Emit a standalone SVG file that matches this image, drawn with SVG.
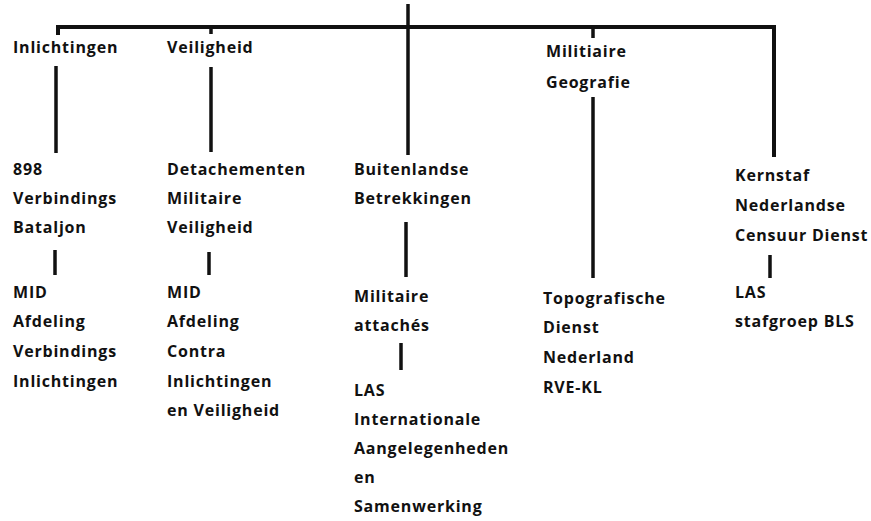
<svg xmlns="http://www.w3.org/2000/svg" width="871" height="521" viewBox="0 0 871 521">
<style>
text{font-family:"Open Sans","DejaVu Sans",sans-serif;font-weight:700;font-size:16px;letter-spacing:0.8px;fill:#111}
.c{stroke:#111;stroke-width:3.5;fill:none;stroke-linecap:butt}
.bar{stroke:#111;stroke-width:4;fill:none}
</style>
<rect width="871" height="521" fill="#fff"/>
<g id="connectors">
<path class="bar" d="M58,35 V27 H774 V157"/>
<line class="c" x1="211" y1="27" x2="211" y2="34"/>
<line class="c" x1="408" y1="4" x2="408" y2="155"/>
<line class="c" x1="593" y1="27" x2="593" y2="38"/>
<line class="c" x1="56" y1="66" x2="56" y2="153"/>
<line class="c" x1="211" y1="67" x2="211" y2="152"/>
<line class="c" x1="593" y1="97" x2="593" y2="278"/>
<line class="c" x1="55" y1="250" x2="55" y2="275"/>
<line class="c" x1="209" y1="252" x2="209" y2="275"/>
<line class="c" x1="406" y1="222" x2="406" y2="277"/>
<line class="c" x1="401" y1="343" x2="401" y2="370"/>
<line class="c" x1="770" y1="255" x2="770" y2="278"/>
</g>
<g id="n-inlichtingen"><text x="13" y="53">Inlichtingen</text></g>
<g id="n-veiligheid"><text x="167" y="53">Veiligheid</text></g>
<g id="n-geografie"><text x="546"><tspan x="546" y="57">Militiaire</tspan><tspan x="546" y="88">Geografie</tspan></text></g>
<g id="n-898"><text><tspan x="13" y="175">898</tspan><tspan x="13" y="204">Verbindings</tspan><tspan x="13" y="233">Bataljon</tspan></text></g>
<g id="n-detachementen"><text><tspan x="167" y="175">Detachementen</tspan><tspan x="167" y="204">Militaire</tspan><tspan x="167" y="233">Veiligheid</tspan></text></g>
<g id="n-buitenlandse"><text><tspan x="354" y="175">Buitenlandse</tspan><tspan x="354" y="204">Betrekkingen</tspan></text></g>
<g id="n-kernstaf"><text><tspan x="735" y="181">Kernstaf</tspan><tspan x="735" y="211">Nederlandse</tspan><tspan x="735" y="241">Censuur Dienst</tspan></text></g>
<g id="n-mid-avi"><text><tspan x="13" y="298">MID</tspan><tspan x="13" y="327">Afdeling</tspan><tspan x="13" y="357">Verbindings</tspan><tspan x="13" y="387">Inlichtingen</tspan></text></g>
<g id="n-mid-aciv"><text><tspan x="167" y="298">MID</tspan><tspan x="167" y="327">Afdeling</tspan><tspan x="167" y="357">Contra</tspan><tspan x="167" y="387">Inlichtingen</tspan><tspan x="167" y="416">en Veiligheid</tspan></text></g>
<g id="n-attaches"><text><tspan x="354" y="302">Militaire</tspan><tspan x="354" y="331">attachés</tspan></text></g>
<g id="n-las-ias"><text><tspan x="354" y="396">LAS</tspan><tspan x="354" y="425">Internationale</tspan><tspan x="354" y="454">Aangelegenheden</tspan><tspan x="354" y="483">en</tspan><tspan x="354" y="512">Samenwerking</tspan></text></g>
<g id="n-topografische"><text><tspan x="543" y="304">Topografische</tspan><tspan x="543" y="333">Dienst</tspan><tspan x="543" y="363">Nederland</tspan><tspan x="543" y="393">RVE-KL</tspan></text></g>
<g id="n-las-bls"><text><tspan x="735" y="298">LAS</tspan><tspan x="735" y="327">stafgroep BLS</tspan></text></g>
</svg>
